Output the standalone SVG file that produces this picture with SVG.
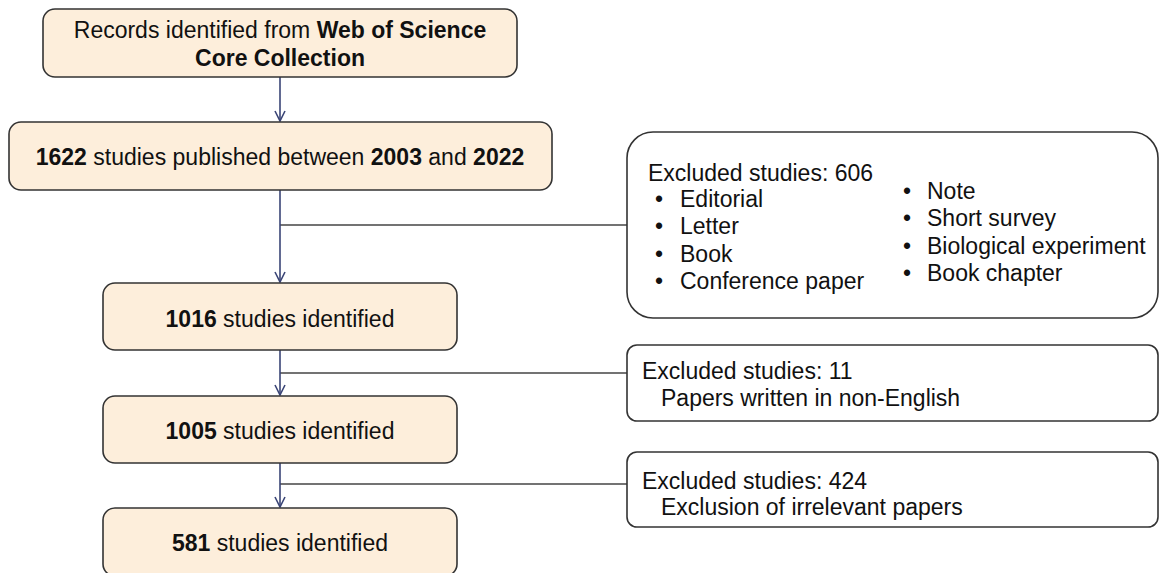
<svg xmlns="http://www.w3.org/2000/svg" width="1160" height="573" viewBox="0 0 1160 573">
<style>
.box{fill:#fdeedb;stroke:#333;stroke-width:1.6}
.ex{fill:#fff;stroke:#333;stroke-width:1.6}
text{font-family:"Liberation Sans",Arial,sans-serif;font-size:23px;fill:#111}
.c{text-anchor:middle}
.b{font-weight:bold}
.v{stroke:#3a4576;stroke-width:1.6;fill:none}
.h{stroke:#444;stroke-width:1.6;fill:none}
</style>
<defs>
<marker id="arr" viewBox="0 0 12 12" refX="11" refY="6" markerWidth="12" markerHeight="12" markerUnits="userSpaceOnUse" orient="auto">
<path d="M1,1 L11,6 L1,11" fill="none" stroke="#3a4576" stroke-width="1.6"/>
</marker>
</defs>
<rect width="1160" height="573" fill="#fff"/>
<g id="connectors">
<path class="h" d="M280,225 H627"/>
<path class="h" d="M280,373 H627"/>
<path class="h" d="M280,484 H627"/>
<path class="v" d="M280,77 V121" marker-end="url(#arr)"/>
<path class="v" d="M280,190 V282" marker-end="url(#arr)"/>
<path class="v" d="M280,350 V395" marker-end="url(#arr)"/>
<path class="v" d="M280,463 V507" marker-end="url(#arr)"/>
</g>
<g id="n1">
<rect class="box" x="43" y="9" width="474" height="68" rx="12"/>
<text class="c" x="280" y="38">Records identified from <tspan class="b">Web of Science</tspan></text>
<text class="c b" x="280" y="66">Core Collection</text>
</g>
<g id="n2">
<rect class="box" x="9" y="122" width="543" height="68" rx="12"/>
<text class="c" x="280" y="165"><tspan class="b">1622</tspan> studies published between <tspan class="b">2003</tspan> and <tspan class="b">2022</tspan></text>
</g>
<g id="n3">
<rect class="box" x="103" y="283" width="354" height="67" rx="12"/>
<text class="c" x="280" y="327"><tspan class="b">1016</tspan> studies identified</text>
</g>
<g id="n4">
<rect class="box" x="103" y="396" width="354" height="67" rx="12"/>
<text class="c" x="280" y="439"><tspan class="b">1005</tspan> studies identified</text>
</g>
<g id="n5">
<rect class="box" x="103" y="508" width="354" height="68" rx="12"/>
<text class="c" x="280" y="551"><tspan class="b">581</tspan> studies identified</text>
</g>
<g id="e1">
<rect class="ex" x="627" y="132" width="531" height="186" rx="26"/>
<text x="648" y="181">Excluded studies: 606</text>
<text x="655" y="207">•</text><text x="680" y="207">Editorial</text>
<text x="655" y="234">•</text><text x="680" y="234">Letter</text>
<text x="655" y="262">•</text><text x="680" y="262">Book</text>
<text x="655" y="289">•</text><text x="680" y="289">Conference paper</text>
<text x="903" y="199">•</text><text x="927" y="199">Note</text>
<text x="903" y="226">•</text><text x="927" y="226">Short survey</text>
<text x="903" y="254">•</text><text x="927" y="254">Biological experiment</text>
<text x="903" y="281">•</text><text x="927" y="281">Book chapter</text>
</g>
<g id="e2">
<rect class="ex" x="627" y="345" width="531" height="76" rx="10"/>
<text x="642" y="379">Excluded studies: 11</text>
<text x="661" y="406">Papers written in non-English</text>
</g>
<g id="e3">
<rect class="ex" x="627" y="452" width="531" height="75" rx="10"/>
<text x="642" y="489">Excluded studies: 424</text>
<text x="661" y="515">Exclusion of irrelevant papers</text>
</g>
</svg>
